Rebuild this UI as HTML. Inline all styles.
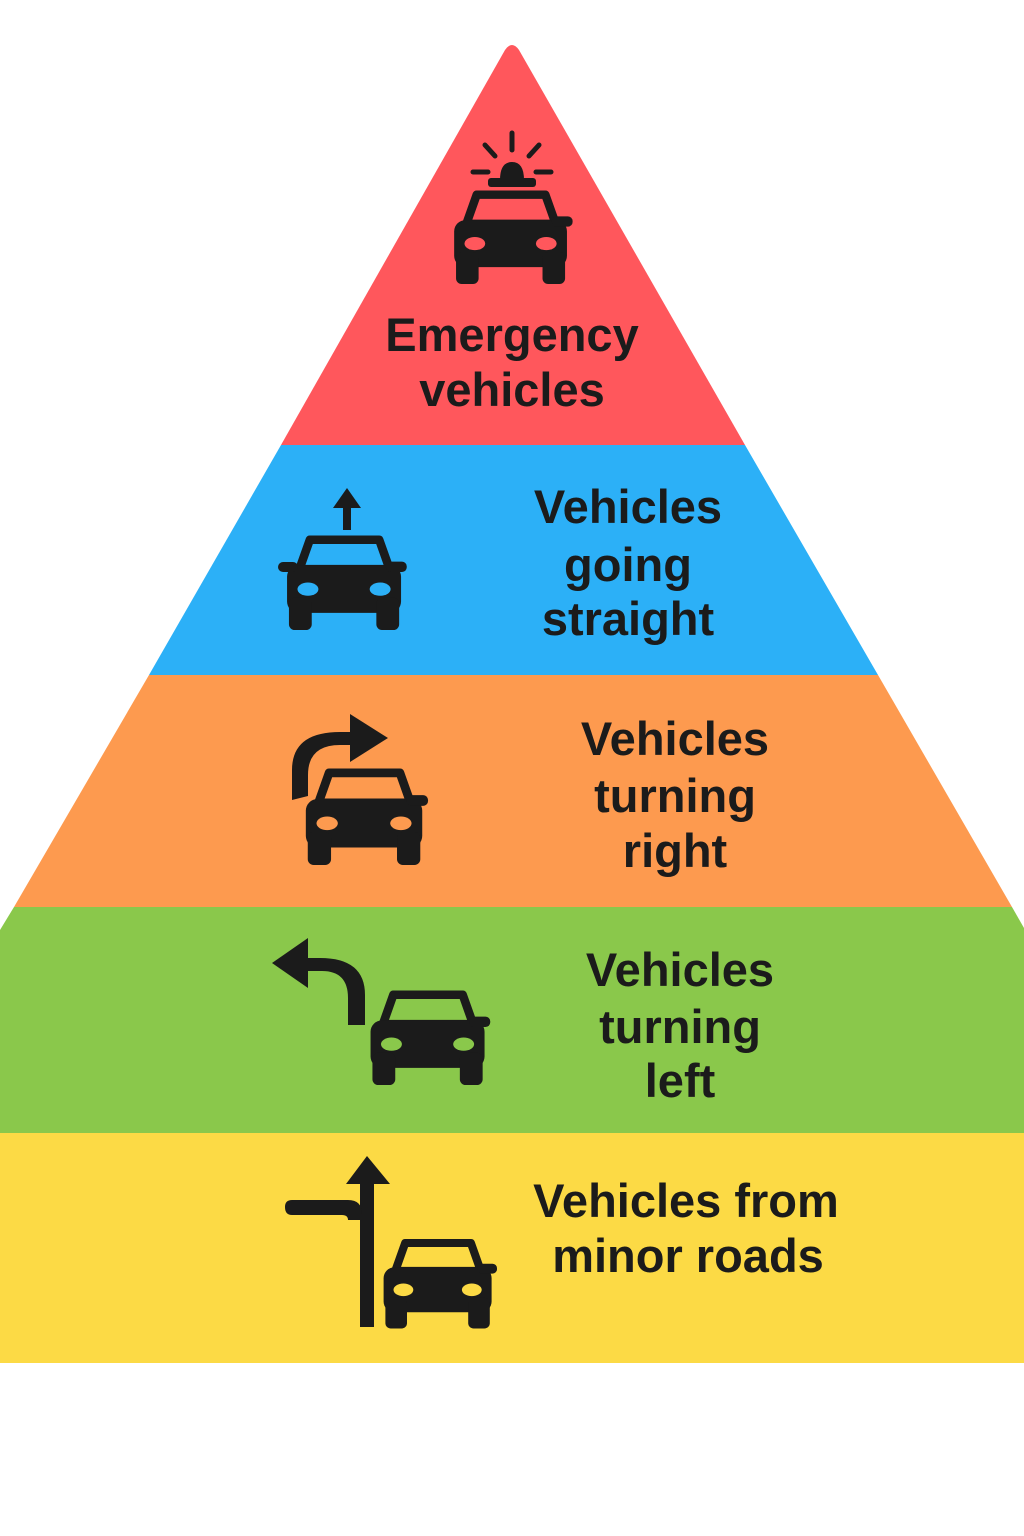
<!DOCTYPE html>
<html><head><meta charset="utf-8"><style>
html,body{margin:0;padding:0;background:#fff}
svg{display:block}
text{font-family:"Liberation Sans",sans-serif;font-weight:bold;fill:#1b1b1b;font-size:47px;text-anchor:middle}
</style></head><body>
<svg width="1024" height="1536" viewBox="0 0 1024 1536">
<defs>
<symbol id="car" viewBox="0 0 130 100">
<path d="M28 5 L101 5 L112 36 L17 36 Z" fill="none" stroke="#1b1b1b" stroke-width="9" stroke-linejoin="round"/>
<rect x="4" y="32" width="120" height="50" rx="12" fill="#1b1b1b"/>
<rect x="6" y="66" width="24" height="34" rx="6" fill="#1b1b1b"/>
<rect x="98" y="66" width="24" height="34" rx="6" fill="#1b1b1b"/>
<rect x="108" y="28" width="22" height="11" rx="5" fill="#1b1b1b"/>
<ellipse cx="26" cy="57" rx="11" ry="7" fill="currentColor"/>
<ellipse cx="102" cy="57" rx="11" ry="7" fill="currentColor"/>
</symbol>
</defs>
<rect width="1024" height="1536" fill="#fff"/>
<path d="M505 50 Q512 40 519 50 L745 445 L281 445 Z" fill="#FF575C"/>
<polygon points="281,445 745,445 878,675 149,675" fill="#2CB0F7"/>
<polygon points="149,675 878,675 1012,907 14,907" fill="#FD9A4F"/>
<polygon points="14,907 1012,907 1024,928 1024,1133 0,1133 0,930" fill="#8AC84B"/>
<rect x="0" y="1133" width="1024" height="230" fill="#FCDA45"/>
<g stroke="#1b1b1b" stroke-width="5" stroke-linecap="round">
<line x1="512" y1="133" x2="512" y2="150"/>
<line x1="485" y1="145" x2="495" y2="156"/>
<line x1="539" y1="145" x2="529" y2="156"/>
<line x1="473" y1="172" x2="488" y2="172"/>
<line x1="536" y1="172" x2="551" y2="172"/>
</g>
<path d="M500 180 Q500 162 512 162 Q524 162 524 180 Z" fill="#1b1b1b"/>
<rect x="488" y="178" width="48" height="9" rx="3" fill="#1b1b1b"/>
<use href="#car" x="448" y="190" width="127" height="94" style="color:#FF575C"/>
<rect x="343" y="505" width="8" height="25" fill="#1b1b1b"/>
<polygon points="347,488 333,508 361,508" fill="#1b1b1b"/>
<use href="#car" x="280" y="535" width="130" height="95" style="color:#2CB0F7"/>
<rect x="278" y="562" width="20" height="10" rx="5" fill="#1b1b1b"/>
<path d="M292 800 L292 770 Q292 732 340 732 L360 732 L360 745 L340 745 Q308 745 308 775 L308 796 Z" fill="#1b1b1b"/>
<polygon points="350,714 388,738 350,762" fill="#1b1b1b"/>
<use href="#car" x="300" y="768" width="130" height="97" style="color:#FD9A4F"/>
<path d="M365 1025 L365 995 Q365 958 320 958 L305 958 L305 971 L322 971 Q348 971 348 998 L348 1025 Z" fill="#1b1b1b"/>
<polygon points="272,963 308,938 308,988" fill="#1b1b1b"/>
<use href="#car" x="365" y="990" width="127" height="95" style="color:#8AC84B"/>
<rect x="360" y="1180" width="14" height="147" fill="#1b1b1b"/>
<polygon points="367,1156 346,1184 390,1184" fill="#1b1b1b"/>
<path d="M292 1200 L348 1200 Q362 1200 362 1214 L362 1220 L348 1220 Q348 1215 342 1215 L292 1215 Q285 1215 285 1207 Q285 1200 292 1200 Z" fill="#1b1b1b"/>
<use href="#car" x="380" y="1235" width="117" height="97" style="color:#FCDA45"/>
<text x="512" y="351">Emergency</text>
<text x="512" y="406">vehicles</text>
<text x="628" y="523">Vehicles</text>
<text x="628" y="581">going</text>
<text x="628" y="635">straight</text>
<text x="675" y="755">Vehicles</text>
<text x="675" y="812">turning</text>
<text x="675" y="867">right</text>
<text x="680" y="986">Vehicles</text>
<text x="680" y="1043">turning</text>
<text x="680" y="1097">left</text>
<text x="686" y="1217">Vehicles from</text>
<text x="688" y="1272">minor roads</text>
</svg>
</body></html>
